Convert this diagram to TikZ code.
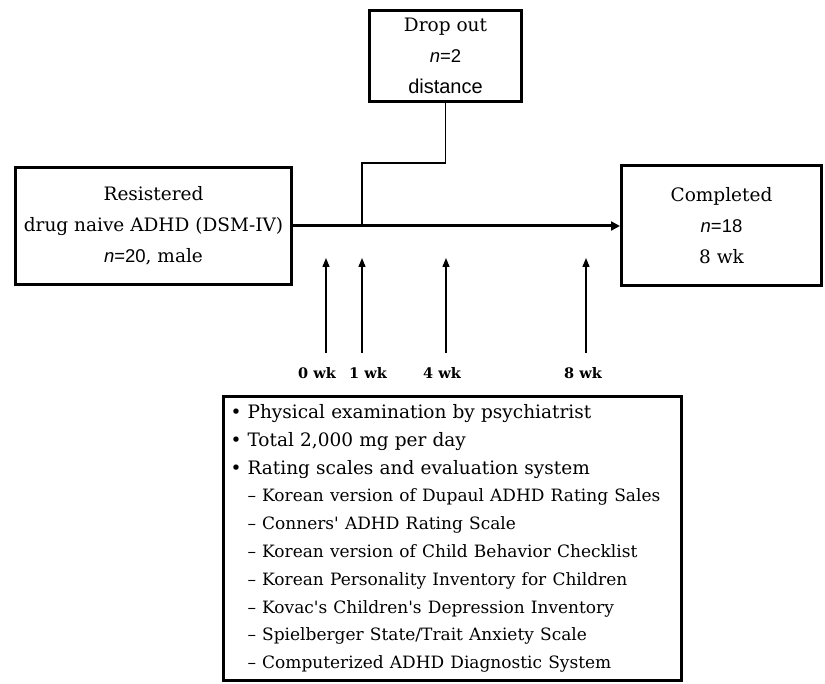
\documentclass[tikz,border=0pt]{standalone}
\usepackage{fontspec}
\setmainfont{DejaVu Serif}[Ligatures=TeXOff]
\setsansfont{Liberation Sans}
\usetikzlibrary{arrows.meta}
\newcommand{\nn}{{\sffamily\itshape n}}
\begin{document}
\begin{tikzpicture}[x=1pt,y=-1pt,
  box/.style={draw, line width=3pt, align=center, inner sep=0pt, font=\fontsize{18.5}{31}\selectfont},
  thin/.style={line width=1.2pt},
  wk/.style={font=\fontsize{14.5}{16}\selectfont\bfseries, inner sep=1pt},
  uparrow/.style={line width=1.3pt, -{Triangle[length=9pt,width=7pt]}},
  mainarrow/.style={line width=3pt, -{Triangle[length=9pt,width=9pt]}}]
\useasboundingbox (0,0) rectangle (825,684);
\node[box, minimum width=276pt, minimum height=117pt] (reg) at (153.5,226)
  {Resistered\\drug naive ADHD (DSM-IV)\\\nn{\sffamily =20}, male};
\node[box, minimum width=152pt, minimum height=91pt] (drop) at (445.5,56)
  {Drop out\\\nn{\sffamily =2}\\{\sffamily\fontsize{20}{31}\selectfont distance}};
\node[box, minimum width=200pt, minimum height=120pt] (done) at (721.5,226)
  {Completed\\\nn{\sffamily =18}\\8 wk};
\node[draw, line width=3pt, minimum width=458pt, minimum height=284pt, text width=444pt, align=left, inner sep=0pt,
  font=\fontsize{18.5}{27.8}\selectfont] (eval) at (452.5,538.5)
  {\hspace*{0pt}• Physical examination by psychiatrist\\
   \hspace*{0pt}• Total 2,000 mg per day\\
   \hspace*{0pt}• Rating scales and evaluation system\\
   {\fontsize{17}{27.8}\selectfont
   \hspace*{17pt}– Korean version of Dupaul ADHD Rating Sales\\
   \hspace*{17pt}– Conners' ADHD Rating Scale\\
   \hspace*{17pt}– Korean version of Child Behavior Checklist\\
   \hspace*{17pt}– Korean Personality Inventory for Children\\
   \hspace*{17pt}– Kovac's Children's Depression Inventory\\
   \hspace*{17pt}– Spielberger State/Trait Anxiety Scale\\
   \hspace*{17pt}– Computerized ADHD Diagnostic System}};
\draw[mainarrow] (reg.east) -- (done.west);
\coordinate (bend) at (362,163);
\coordinate (join) at (362,226);
\draw[thin] (drop.south) |- (bend) -- (join);
\node[wk] (w0) at (317,373) {0 wk};
\node[wk] (w1) at (368,373) {1 wk};
\node[wk] (w4) at (442,373) {4 wk};
\node[wk] (w8) at (583,373) {8 wk};
\foreach \i/\x in {0/326,1/362,4/446,8/586}{
  \coordinate (b\i) at (\x,353);
  \coordinate (t\i) at (\x,258);
  \draw[uparrow] (b\i) -- (t\i);
}
\end{tikzpicture}
\end{document}
